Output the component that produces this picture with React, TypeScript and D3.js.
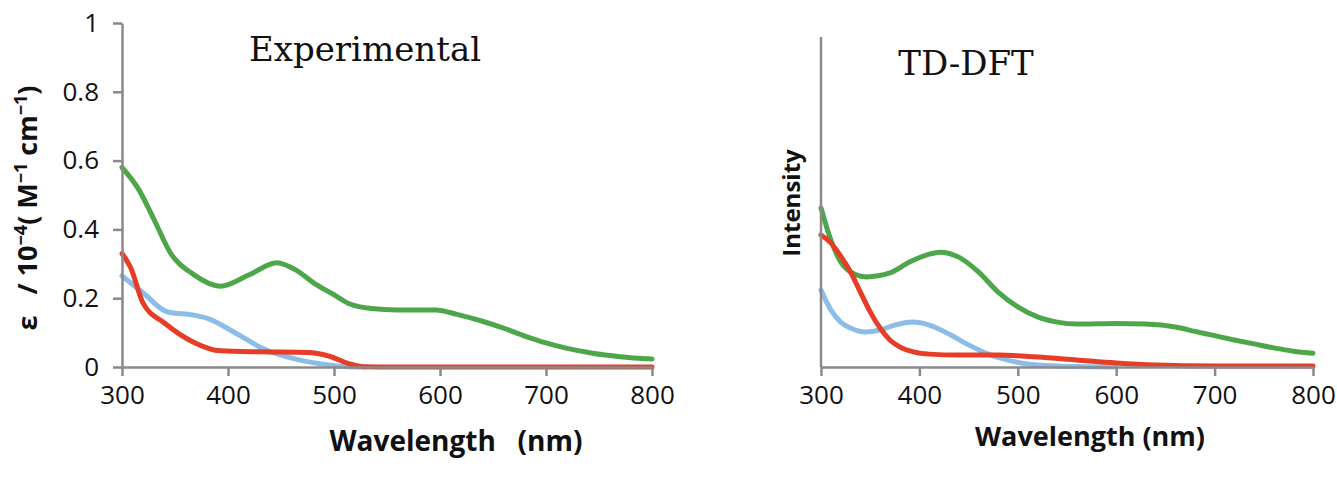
import React, { useEffect, useRef } from 'react'
import * as d3 from 'd3'

// wavelengths (nm) and values
const expGreenX = [300, 316, 330, 346, 367, 393, 420, 446, 465, 481, 500, 515, 535, 560, 596, 616, 640, 660, 680, 700, 720, 744, 770, 800]
const expGreenY = [0.58, 0.515, 0.43, 0.33, 0.27, 0.235, 0.268, 0.303, 0.28, 0.244, 0.21, 0.183, 0.17, 0.166, 0.166, 0.153, 0.133, 0.113, 0.09, 0.07, 0.054, 0.04, 0.03, 0.023]
const expBlueX = [300, 320, 343, 367, 380, 407, 434, 464, 495, 522, 530]
const expBlueY = [0.265, 0.215, 0.16, 0.151, 0.142, 0.099, 0.052, 0.023, 0.006, 0.0, 0.0]
const expRedX = [300, 308, 320, 340, 367, 393, 431, 475, 495, 515, 528, 560, 650, 800]
const expRedY = [0.33, 0.29, 0.185, 0.128, 0.073, 0.047, 0.044, 0.042, 0.032, 0.009, 0.001, 0, 0, 0]

const dftGreenX = [300, 310, 320, 330, 346, 370, 390, 410, 421, 440, 460, 480, 500, 520, 540, 560, 600, 630, 660, 680, 700, 720, 740, 760, 780, 800]
const dftGreenY = [0.482, 0.385, 0.318, 0.288, 0.273, 0.285, 0.318, 0.342, 0.348, 0.333, 0.288, 0.227, 0.182, 0.152, 0.136, 0.13, 0.132, 0.13, 0.121, 0.108, 0.095, 0.082, 0.07, 0.058, 0.048, 0.042]
const dftBlueX = [300, 310, 320, 330, 345, 360, 375, 393, 410, 430, 450, 470, 490, 510, 540, 570, 600]
const dftBlueY = [0.233, 0.173, 0.136, 0.118, 0.106, 0.112, 0.127, 0.136, 0.127, 0.1, 0.067, 0.039, 0.021, 0.009, 0.003, 0.001, 0]
const dftRedX = [300, 310, 320, 330, 340, 350, 360, 370, 380, 395, 410, 440, 480, 520, 560, 600, 640, 700, 800]
const dftRedY = [0.4, 0.376, 0.336, 0.288, 0.227, 0.167, 0.118, 0.082, 0.061, 0.045, 0.039, 0.036, 0.036, 0.03, 0.021, 0.012, 0.006, 0.003, 0.003]

const xTicks = [300, 400, 500, 600, 700, 800]
const yTicks = [0, 0.2, 0.4, 0.6, 0.8, 1]

const GREEN = '#4ea64a'
const BLUE = '#8cbde9'
const RED = '#e73c26'
const AXIS = '#8a8a8a'
const TICK_FONT = '"Open Sans", "Noto Sans", sans-serif'

const App = () => {
  const refSvg = useRef<SVGSVGElement>(null)

  useEffect(() => {
    const svg = d3.select(refSvg.current)
    svg.selectAll('*').remove()

    const drawPanel = (opts: {
      x0: number
      x1: number
      yTop: number
      showYTicks: boolean
      series: { xs: number[]; ys: number[]; color: string }[]
    }) => {
      const x = d3.scaleLinear().domain([300, 800]).range([opts.x0, opts.x1])
      const y = d3.scaleLinear().domain([0, 1]).range([367, opts.yTop])
      const g = svg.append('g')

      const line = d3
        .line<[number, number]>()
        .x((d) => x(d[0]))
        .y((d) => y(d[1]))
        .curve(d3.curveMonotoneX)

      opts.series.forEach((s) => {
        g.append('path')
          .datum(s.xs.map((v, i) => [v, s.ys[i]] as [number, number]))
          .attr('fill', 'none')
          .attr('stroke', s.color)
          .attr('stroke-width', 5)
          .attr('stroke-linecap', 'round')
          .attr('d', line)
      })

      // x axis
      const xa = g.append('g').attr('transform', `translate(0,${y(0)})`)
        .call(d3.axisBottom(x).tickValues(xTicks).tickSize(9).tickSizeOuter(0).tickPadding(10))
      xa.select('.domain').attr('stroke', AXIS).attr('stroke-width', 2.5)
      xa.selectAll('line').attr('stroke', AXIS).attr('stroke-width', 2.5)
      xa.selectAll('text').attr('font-size', 26).attr('font-family', TICK_FONT).attr('fill', '#111')

      // y axis
      const ya = g.append('g').attr('transform', `translate(${x(300)},0)`)
      if (opts.showYTicks) {
        ya.call(d3.axisLeft(y).tickValues(yTicks).tickSize(9).tickSizeOuter(0).tickPadding(14).tickFormat((d) => String(+d)))
        ya.selectAll('line').attr('stroke', AXIS).attr('stroke-width', 2.5)
        ya.selectAll('text').attr('font-size', 26).attr('font-family', TICK_FONT).attr('fill', '#111')
        ya.select('.domain').attr('stroke', AXIS).attr('stroke-width', 2.5)
      } else {
        ya.append('line').attr('y1', y(0)).attr('y2', opts.yTop)
          .attr('stroke', AXIS).attr('stroke-width', 2.5)
      }
      return { x, y, g }
    }

    drawPanel({
      x0: 122, x1: 652, yTop: 23, showYTicks: true,
      series: [
        { xs: expGreenX, ys: expGreenY, color: GREEN },
        { xs: expBlueX, ys: expBlueY, color: BLUE },
        { xs: expRedX, ys: expRedY, color: RED },
      ],
    })

    drawPanel({
      x0: 821, x1: 1313, yTop: 37, showYTicks: false,
      series: [
        { xs: dftGreenX, ys: dftGreenY, color: GREEN },
        { xs: dftBlueX, ys: dftBlueY, color: BLUE },
        { xs: dftRedX, ys: dftRedY, color: RED },
      ],
    })

    // titles
    svg.append('text').attr('x', 365).attr('y', 61).attr('text-anchor', 'middle')
      .attr('font-family', '"DejaVu Serif", serif').attr('font-size', 34).attr('fill', '#111').text('Experimental')
    svg.append('text').attr('x', 966).attr('y', 75).attr('text-anchor', 'middle')
      .attr('font-family', '"DejaVu Serif", serif').attr('font-size', 34).attr('fill', '#111').text('TD-DFT')

    // x axis titles
    svg.append('text').attr('x', 456).attr('y', 451).attr('text-anchor', 'middle')
      .attr('font-family', TICK_FONT).attr('font-weight', 'bold').attr('font-size', 28).attr('fill', '#111')
      .style('white-space', 'pre').text('Wavelength   (nm)')
    svg.append('text').attr('x', 1090).attr('y', 446).attr('text-anchor', 'middle')
      .attr('font-family', TICK_FONT).attr('font-weight', 'bold').attr('font-size', 27).attr('fill', '#111')
      .text('Wavelength (nm)')

    // y axis titles
    const yl = svg.append('text').attr('transform', 'translate(37,208) rotate(-90)').attr('text-anchor', 'middle')
      .attr('font-family', TICK_FONT).attr('font-weight', 'bold').attr('font-size', 27).attr('fill', '#111')
      .style('white-space', 'pre')
    yl.append('tspan').text('ε   / 10')
    yl.append('tspan').attr('dy', -10).attr('font-size', 18).text('−4')
    yl.append('tspan').attr('dy', 10).text('( M')
    yl.append('tspan').attr('dy', -10).attr('font-size', 18).text('−1')
    yl.append('tspan').attr('dy', 10).text(' cm')
    yl.append('tspan').attr('dy', -10).attr('font-size', 18).text('−1')
    yl.append('tspan').attr('dy', 10).text(')')

    svg.append('text').attr('transform', 'translate(800,203) rotate(-90)').attr('text-anchor', 'middle')
      .attr('font-family', TICK_FONT).attr('font-weight', 'bold').attr('font-size', 24).attr('fill', '#111')
      .text('Intensity')
  }, [])

  return (
    <svg
      ref={refSvg}
      width={1337}
      height={483}
      style={{ position: 'absolute', left: 0, top: 0, background: '#fff' }}
    />
  )
}

export default App
